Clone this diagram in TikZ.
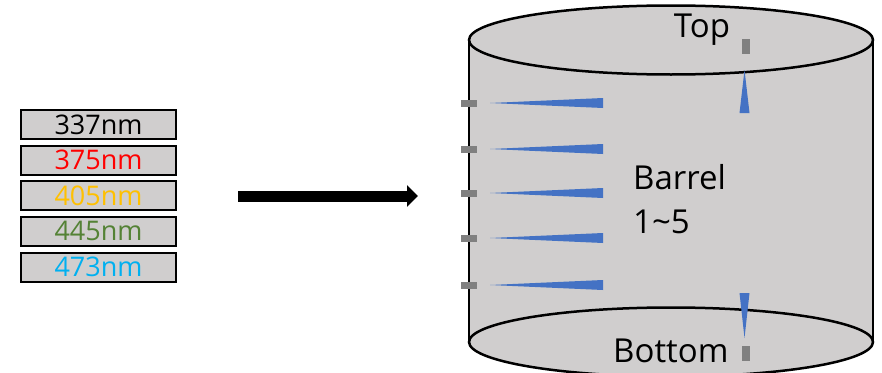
\documentclass[tikz,border=0pt]{standalone}
\usepackage{fontspec}
\setmainfont{Open Sans}
\usetikzlibrary{arrows.meta}
\definecolor{drumgray}{HTML}{D0CECE}
\definecolor{beamblue}{HTML}{4472C4}
\definecolor{portgray}{HTML}{808080}
\definecolor{wlred}{HTML}{FF0000}
\definecolor{wlorange}{HTML}{FFC000}
\definecolor{wlgreen}{HTML}{548235}
\definecolor{wlblue}{HTML}{00B0F0}
\tikzset{
  wlbox/.style={draw=black, fill=drumgray, line width=2pt, minimum width=155pt,
    minimum height=29pt, inner sep=0pt, font=\fontsize{27}{30}\selectfont},
  drumline/.style={draw=black, line width=2.5pt},
  bigtext/.style={inner sep=0pt, font=\fontsize{33}{44}\selectfont},
  beam/.style={fill=beamblue},
  port/.style={fill=portgray},
}
\begin{document}
\begin{tikzpicture}[x=1pt,y=-1pt]
\useasboundingbox (0,0) rectangle (882,372);

% wavelength list
\node[wlbox, text=black]    (w1) at (98.5,124.5) {337nm};
\node[wlbox, text=wlred]    (w2) at (98.5,160)   {375nm};
\node[wlbox, text=wlorange] (w3) at (98.5,195.5) {405nm};
\node[wlbox, text=wlgreen]  (w4) at (98.5,231)   {445nm};
\node[wlbox, text=wlblue]   (w5) at (98.5,267)   {473nm};

% feed arrow
\coordinate (feedS) at (238,196);
\coordinate (feedE) at (418,196);
\draw[line width=11pt, -{Triangle[length=11pt,width=21pt]}] (feedS) -- (feedE);

% cylinder body
\fill[drumgray] (469,40) -- (469,342)
  arc[start angle=180, end angle=360, x radius=202pt, y radius=34.5pt]
  -- (873,40)
  arc[start angle=0, end angle=180, x radius=202pt, y radius=34.5pt] -- cycle;
\draw[drumline] (469,40) -- (469,342);
\draw[drumline] (873,40) -- (873,342);
\draw[drumline] (671,342) ellipse[x radius=202pt, y radius=34.5pt];
\draw[drumline] (671,40) ellipse[x radius=202pt, y radius=34.5pt];

% barrel ports and beams
\foreach \yy in {103,149,193,238,285}{
  \fill[port] (461,\yy-3.5) rectangle (477,\yy+3.5);
  \fill[beam] (490,\yy) -- (603,\yy-5) -- (603,\yy+5) -- cycle;
}

% top port and beam
\fill[port] (742,39) rectangle (750,54);
\fill[beam] (744.5,70) -- (739.5,113) -- (749.5,113) -- cycle;

% bottom port and beam
\fill[port] (742,346) rectangle (750,361);
\fill[beam] (744.5,338) -- (739.5,293) -- (749.5,293) -- cycle;

% labels
\node[bigtext, anchor=base] (top) at (702,37) {Top};
\node[bigtext, anchor=base west] (bottom) at (613,362) {Bottom};
\node[bigtext, anchor=base west, align=left] (barrel) at (633,233) {Barrel\\1\textasciitilde5};
\end{tikzpicture}
\end{document}
